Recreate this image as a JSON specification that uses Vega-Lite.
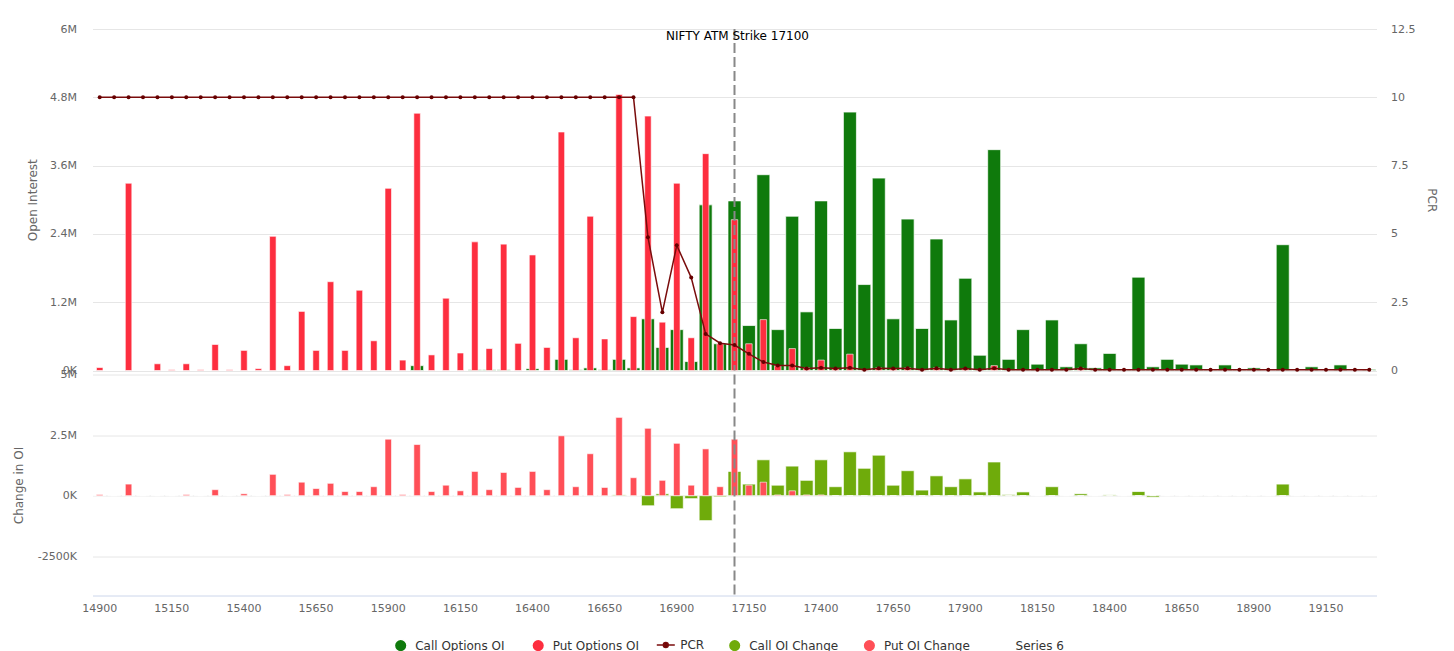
{
  "$schema": "https://vega.github.io/schema/vega-lite/v6.json",
  "padding": {"left": 11.5, "top": 23, "right": 5, "bottom": 0},
  "background": "white",
  "config": {
    "font": "DejaVu Sans",
    "view": {"stroke": null},
    "legend": {"labelFont": "DejaVu Sans", "labelFontSize": 12, "labelColor": "#333333", "orient": "none", "direction": "horizontal"},
    "axis": {
      "gridColor": "#e6e6e6",
      "labelColor": "#666666",
      "labelFont": "DejaVu Sans",
      "labelFontSize": 11,
      "titleColor": "#666666",
      "titleFont": "DejaVu Sans",
      "titleFontSize": 12,
      "titleFontWeight": "normal",
      "ticks": false,
      "domain": false
    }
  },
  "data": {"values": [
    {"s":14900,"c":0,"p":52000,"r":10,"cc":0,"pc":46000},
    {"s":14950,"c":0,"p":0,"r":10,"cc":0,"pc":0},
    {"s":15000,"c":0,"p":3290000,"r":10,"cc":0,"pc":478000},
    {"s":15050,"c":0,"p":0,"r":10,"cc":0,"pc":0},
    {"s":15100,"c":0,"p":118000,"r":10,"cc":0,"pc":0},
    {"s":15150,"c":0,"p":13000,"r":10,"cc":0,"pc":0},
    {"s":15200,"c":0,"p":118000,"r":10,"cc":0,"pc":46000},
    {"s":15250,"c":0,"p":13000,"r":10,"cc":0,"pc":0},
    {"s":15300,"c":0,"p":457000,"r":10,"cc":0,"pc":247000},
    {"s":15350,"c":0,"p":13000,"r":10,"cc":0,"pc":0},
    {"s":15400,"c":0,"p":353000,"r":10,"cc":0,"pc":77000},
    {"s":15450,"c":0,"p":33000,"r":10,"cc":0,"pc":0},
    {"s":15500,"c":0,"p":2357000,"r":10,"cc":0,"pc":880000},
    {"s":15550,"c":0,"p":85000,"r":10,"cc":0,"pc":46000},
    {"s":15600,"c":0,"p":1038000,"r":10,"cc":0,"pc":556000},
    {"s":15650,"c":0,"p":353000,"r":10,"cc":0,"pc":293000},
    {"s":15700,"c":0,"p":1560000,"r":10,"cc":0,"pc":509000},
    {"s":15750,"c":0,"p":353000,"r":10,"cc":0,"pc":170000},
    {"s":15800,"c":0,"p":1410000,"r":10,"cc":0,"pc":170000},
    {"s":15850,"c":0,"p":522000,"r":10,"cc":0,"pc":370000},
    {"s":15900,"c":0,"p":3200000,"r":10,"cc":0,"pc":2330000},
    {"s":15950,"c":0,"p":183000,"r":10,"cc":0,"pc":46000},
    {"s":16000,"c":85000,"p":4520000,"r":10,"cc":0,"pc":2110000},
    {"s":16050,"c":0,"p":274000,"r":10,"cc":0,"pc":170000},
    {"s":16100,"c":0,"p":1270000,"r":10,"cc":0,"pc":432000},
    {"s":16150,"c":0,"p":307000,"r":10,"cc":0,"pc":200000},
    {"s":16200,"c":13000,"p":2260000,"r":10,"cc":0,"pc":1000000},
    {"s":16250,"c":13000,"p":385000,"r":10,"cc":0,"pc":247000},
    {"s":16300,"c":13000,"p":2220000,"r":10,"cc":0,"pc":957000},
    {"s":16350,"c":0,"p":477000,"r":10,"cc":0,"pc":340000},
    {"s":16400,"c":33000,"p":2030000,"r":10,"cc":0,"pc":1000000},
    {"s":16450,"c":0,"p":405000,"r":10,"cc":0,"pc":247000},
    {"s":16500,"c":196000,"p":4190000,"r":10,"cc":0,"pc":2470000},
    {"s":16550,"c":13000,"p":575000,"r":10,"cc":0,"pc":370000},
    {"s":16600,"c":46000,"p":2710000,"r":10,"cc":0,"pc":1730000},
    {"s":16650,"c":13000,"p":555000,"r":10,"cc":0,"pc":340000},
    {"s":16700,"c":196000,"p":4850000,"r":10,"cc":31000,"pc":3230000},
    {"s":16750,"c":46000,"p":947000,"r":10,"cc":0,"pc":741000},
    {"s":16800,"c":908000,"p":4470000,"r":4.88,"cc":-417000,"pc":2780000},
    {"s":16850,"c":405000,"p":849000,"r":2.13,"cc":77000,"pc":633000},
    {"s":16900,"c":718000,"p":3290000,"r":4.58,"cc":-540000,"pc":2160000},
    {"s":16950,"c":157000,"p":575000,"r":3.4,"cc":-123000,"pc":432000},
    {"s":17000,"c":2910000,"p":3810000,"r":1.34,"cc":-1030000,"pc":1930000},
    {"s":17050,"c":470000,"p":470000,"r":1.0,"cc":-46000,"pc":370000},
    {"s":17100,"c":2980000,"p":2650000,"r":0.93,"cc":1000000,"pc":2330000},
    {"s":17150,"c":790000,"p":470000,"r":0.61,"cc":478000,"pc":432000},
    {"s":17200,"c":3440000,"p":894000,"r":0.31,"cc":1480000,"pc":556000},
    {"s":17250,"c":718000,"p":85000,"r":0.18,"cc":432000,"pc":31000},
    {"s":17300,"c":2710000,"p":385000,"r":0.18,"cc":1220000,"pc":200000},
    {"s":17350,"c":1030000,"p":46000,"r":0.07,"cc":633000,"pc":31000},
    {"s":17400,"c":2980000,"p":183000,"r":0.1,"cc":1480000,"pc":31000},
    {"s":17450,"c":738000,"p":33000,"r":0.07,"cc":370000,"pc":0},
    {"s":17500,"c":4540000,"p":287000,"r":0.1,"cc":1810000,"pc":0},
    {"s":17550,"c":1510000,"p":13000,"r":0.03,"cc":1130000,"pc":0},
    {"s":17600,"c":3380000,"p":46000,"r":0.08,"cc":1670000,"pc":0},
    {"s":17650,"c":908000,"p":33000,"r":0.07,"cc":432000,"pc":0},
    {"s":17700,"c":2660000,"p":46000,"r":0.08,"cc":1030000,"pc":0},
    {"s":17750,"c":738000,"p":13000,"r":0.03,"cc":231000,"pc":0},
    {"s":17800,"c":2310000,"p":46000,"r":0.08,"cc":818000,"pc":0},
    {"s":17850,"c":888000,"p":13000,"r":0.03,"cc":370000,"pc":0},
    {"s":17900,"c":1620000,"p":33000,"r":0.07,"cc":694000,"pc":0},
    {"s":17950,"c":268000,"p":13000,"r":0.03,"cc":154000,"pc":0},
    {"s":18000,"c":3880000,"p":85000,"r":0.08,"cc":1390000,"pc":0},
    {"s":18050,"c":196000,"p":0,"r":0.03,"cc":46000,"pc":0},
    {"s":18100,"c":718000,"p":0,"r":0.03,"cc":154000,"pc":0},
    {"s":18150,"c":111000,"p":0,"r":0.03,"cc":0,"pc":0},
    {"s":18200,"c":888000,"p":0,"r":0.03,"cc":370000,"pc":0},
    {"s":18250,"c":65000,"p":0,"r":0.03,"cc":0,"pc":0},
    {"s":18300,"c":470000,"p":40000,"r":0.07,"cc":77000,"pc":0},
    {"s":18350,"c":46000,"p":0,"r":0.03,"cc":0,"pc":0},
    {"s":18400,"c":300000,"p":0,"r":0.03,"cc":31000,"pc":0},
    {"s":18450,"c":26000,"p":0,"r":0.03,"cc":0,"pc":0},
    {"s":18500,"c":1640000,"p":0,"r":0.03,"cc":170000,"pc":0},
    {"s":18550,"c":65000,"p":0,"r":0.03,"cc":-62000,"pc":0},
    {"s":18600,"c":196000,"p":0,"r":0.03,"cc":0,"pc":0},
    {"s":18650,"c":111000,"p":0,"r":0.03,"cc":0,"pc":0},
    {"s":18700,"c":98000,"p":0,"r":0.03,"cc":0,"pc":0},
    {"s":18750,"c":13000,"p":0,"r":0.03,"cc":0,"pc":0},
    {"s":18800,"c":98000,"p":0,"r":0.03,"cc":0,"pc":0},
    {"s":18850,"c":13000,"p":0,"r":0.03,"cc":0,"pc":0},
    {"s":18900,"c":46000,"p":0,"r":0.03,"cc":0,"pc":0},
    {"s":18950,"c":5000,"p":0,"r":0.03,"cc":0,"pc":0},
    {"s":19000,"c":2210000,"p":0,"r":0.03,"cc":478000,"pc":0},
    {"s":19050,"c":0,"p":0,"r":0.03,"cc":0,"pc":0},
    {"s":19100,"c":65000,"p":0,"r":0.03,"cc":0,"pc":0},
    {"s":19150,"c":0,"p":0,"r":0.03,"cc":0,"pc":0},
    {"s":19200,"c":98000,"p":0,"r":0.03,"cc":0,"pc":0},
    {"s":19250,"c":0,"p":0,"r":0.03,"cc":0,"pc":0},
    {"s":19300,"c":20000,"p":0,"r":0.03,"cc":0,"pc":0}
  ]},
  "vconcat": [
    {
      "width": 1284,
      "height": 341.5,
      "layer": [
        {
          "layer": [
            {
              "mark": {"type": "bar", "size": 13, "stroke": "#ffffff", "strokeWidth": 1, "strokeOpacity": 0.7},
              "encoding": {
                "x": {"field": "s", "type": "ordinal", "axis": null, "scale": {"paddingInner": 0, "paddingOuter": 0}},
                "y": {"field": "c", "type": "quantitative", "title": "Open Interest", "scale": {"domain": [0, 6000000], "nice": false},
                  "axis": {"values": [0, 1200000, 2400000, 3600000, 4800000, 6000000],
                    "labelExpr": "datum.value == 0 ? '0K' : format(datum.value/1000000, '~g') + 'M'",
                    "labelPadding": 16, "titlePadding": 10}},
                "color": {"datum": "Call Options OI",
                  "scale": {"domain": ["Call Options OI", "Put Options OI"], "range": ["#0f7a0c", "#fd2e3f"]},
                  "legend": {"title": null, "legendX": 300.7, "legendY": 609, "columns": 2, "columnPadding": 23.5,
                    "labelOffset": 7, "symbolSize": 159, "symbolType": "circle"}}
              }
            },
            {
              "mark": {"type": "bar", "size": 6.5, "stroke": "#ffffff", "strokeWidth": 1, "strokeOpacity": 0.6},
              "encoding": {
                "x": {"field": "s", "type": "ordinal", "axis": null},
                "y": {"field": "p", "type": "quantitative", "title": "Open Interest"},
                "color": {"datum": "Put Options OI"}
              }
            },
            {
              "data": {"values": [{"s": 17100}]},
              "mark": {"type": "rule", "color": "#888888", "strokeWidth": 2, "strokeDash": [10, 4]},
              "encoding": {"x": {"field": "s", "type": "ordinal", "axis": null}}
            },
            {
              "data": {"values": [{"s": 17100, "v": 5877000, "t": "NIFTY ATM Strike 17100"}]},
              "mark": {"type": "text", "font": "DejaVu Sans", "fontSize": 12, "color": "#000000", "align": "center", "baseline": "middle", "dx": 3},
              "encoding": {
                "x": {"field": "s", "type": "ordinal", "axis": null},
                "y": {"field": "v", "type": "quantitative", "title": "Open Interest"},
                "text": {"field": "t"}
              }
            }
          ]
        },
        {
          "layer": [
            {
              "mark": {"type": "line", "strokeWidth": 1.5},
              "encoding": {
                "x": {"field": "s", "type": "ordinal", "axis": null},
                "y": {"field": "r", "type": "quantitative", "title": "PCR", "scale": {"domain": [0, 12.5], "nice": false},
                  "axis": {"orient": "right", "values": [0, 2.5, 5, 7.5, 10, 12.5], "format": ".3~g",
                    "grid": false, "labelPadding": 14, "titlePadding": 9.5}},
                "stroke": {"datum": "PCR", "scale": {"domain": ["PCR"], "range": ["#7a0c0c"]},
                  "legend": {"title": null, "legendX": 563.3, "legendY": 606, "labelOffset": 4.4,
                    "symbolSize": 324, "symbolStrokeWidth": 1.5, "symbolFillColor": "#660000",
                    "symbolType": "M -1 0 L 1 0 M -0.27 0 A 0.27 0.27 0 1 1 0.27 0 A 0.27 0.27 0 1 1 -0.27 0 Z"}}
              }
            },
            {
              "mark": {"type": "point", "filled": true, "color": "#660000", "size": 16, "opacity": 1},
              "encoding": {
                "x": {"field": "s", "type": "ordinal", "axis": null},
                "y": {"field": "r", "type": "quantitative", "title": "PCR"}
              }
            }
          ]
        }
      ],
      "resolve": {"scale": {"y": "independent"}, "axis": {"y": "independent"}}
    },
    {
      "width": 1284,
      "height": 221,
      "layer": [
        {
          "mark": {"type": "bar", "size": 13, "stroke": "#ffffff", "strokeWidth": 1, "strokeOpacity": 0.7},
          "encoding": {
            "x": {"field": "s", "type": "ordinal", "title": null, "scale": {"paddingInner": 0, "paddingOuter": 0},
              "axis": {"values": [14900, 15150, 15400, 15650, 15900, 16150, 16400, 16650, 16900, 17150, 17400, 17650, 17900, 18150, 18400, 18650, 18900, 19150],
                "labelAngle": 0, "domain": true, "domainColor": "#ccd6eb", "domainWidth": 1, "labelPadding": 7, "grid": false}},
            "y": {"field": "cc", "type": "quantitative", "title": "Change in OI", "scale": {"domain": [-4120000, 5000000], "nice": false},
              "axis": {"values": [-2500000, 0, 2500000, 5000000],
                "labelExpr": "datum.value == 0 ? '0K' : (datum.value < 0 ? '-' + format(-datum.value/1000, 'd') + 'K' : format(datum.value/1000000, '~g') + 'M')",
                "labelPadding": 16, "titlePadding": 12}},
            "fill": {"datum": "Call OI Change",
              "scale": {"domain": ["Call OI Change", "Put OI Change", "Series 6"], "range": ["#6fab0b", "#ff4f57", "rgba(0,0,0,0)"]},
              "legend": {"title": null, "legendX": 634.7, "legendY": 609, "columns": 3, "columnPadding": 21.7,
                "labelOffset": 7, "symbolSize": 159, "symbolType": "circle"}}
          }
        },
        {
          "mark": {"type": "bar", "size": 6.5, "stroke": "#ffffff", "strokeWidth": 1, "strokeOpacity": 0.6},
          "encoding": {
            "x": {"field": "s", "type": "ordinal", "title": null},
            "y": {"field": "pc", "type": "quantitative", "title": "Change in OI"},
            "fill": {"datum": "Put OI Change"}
          }
        },
        {
          "data": {"values": [{"s": 17100}]},
          "mark": {"type": "rule", "color": "#888888", "strokeWidth": 2, "strokeDash": [10, 4]},
          "encoding": {"x": {"field": "s", "type": "ordinal", "title": null}}
        }
      ]
    }
  ],
  "spacing": 3.5,
  "bounds": "flush"
}
